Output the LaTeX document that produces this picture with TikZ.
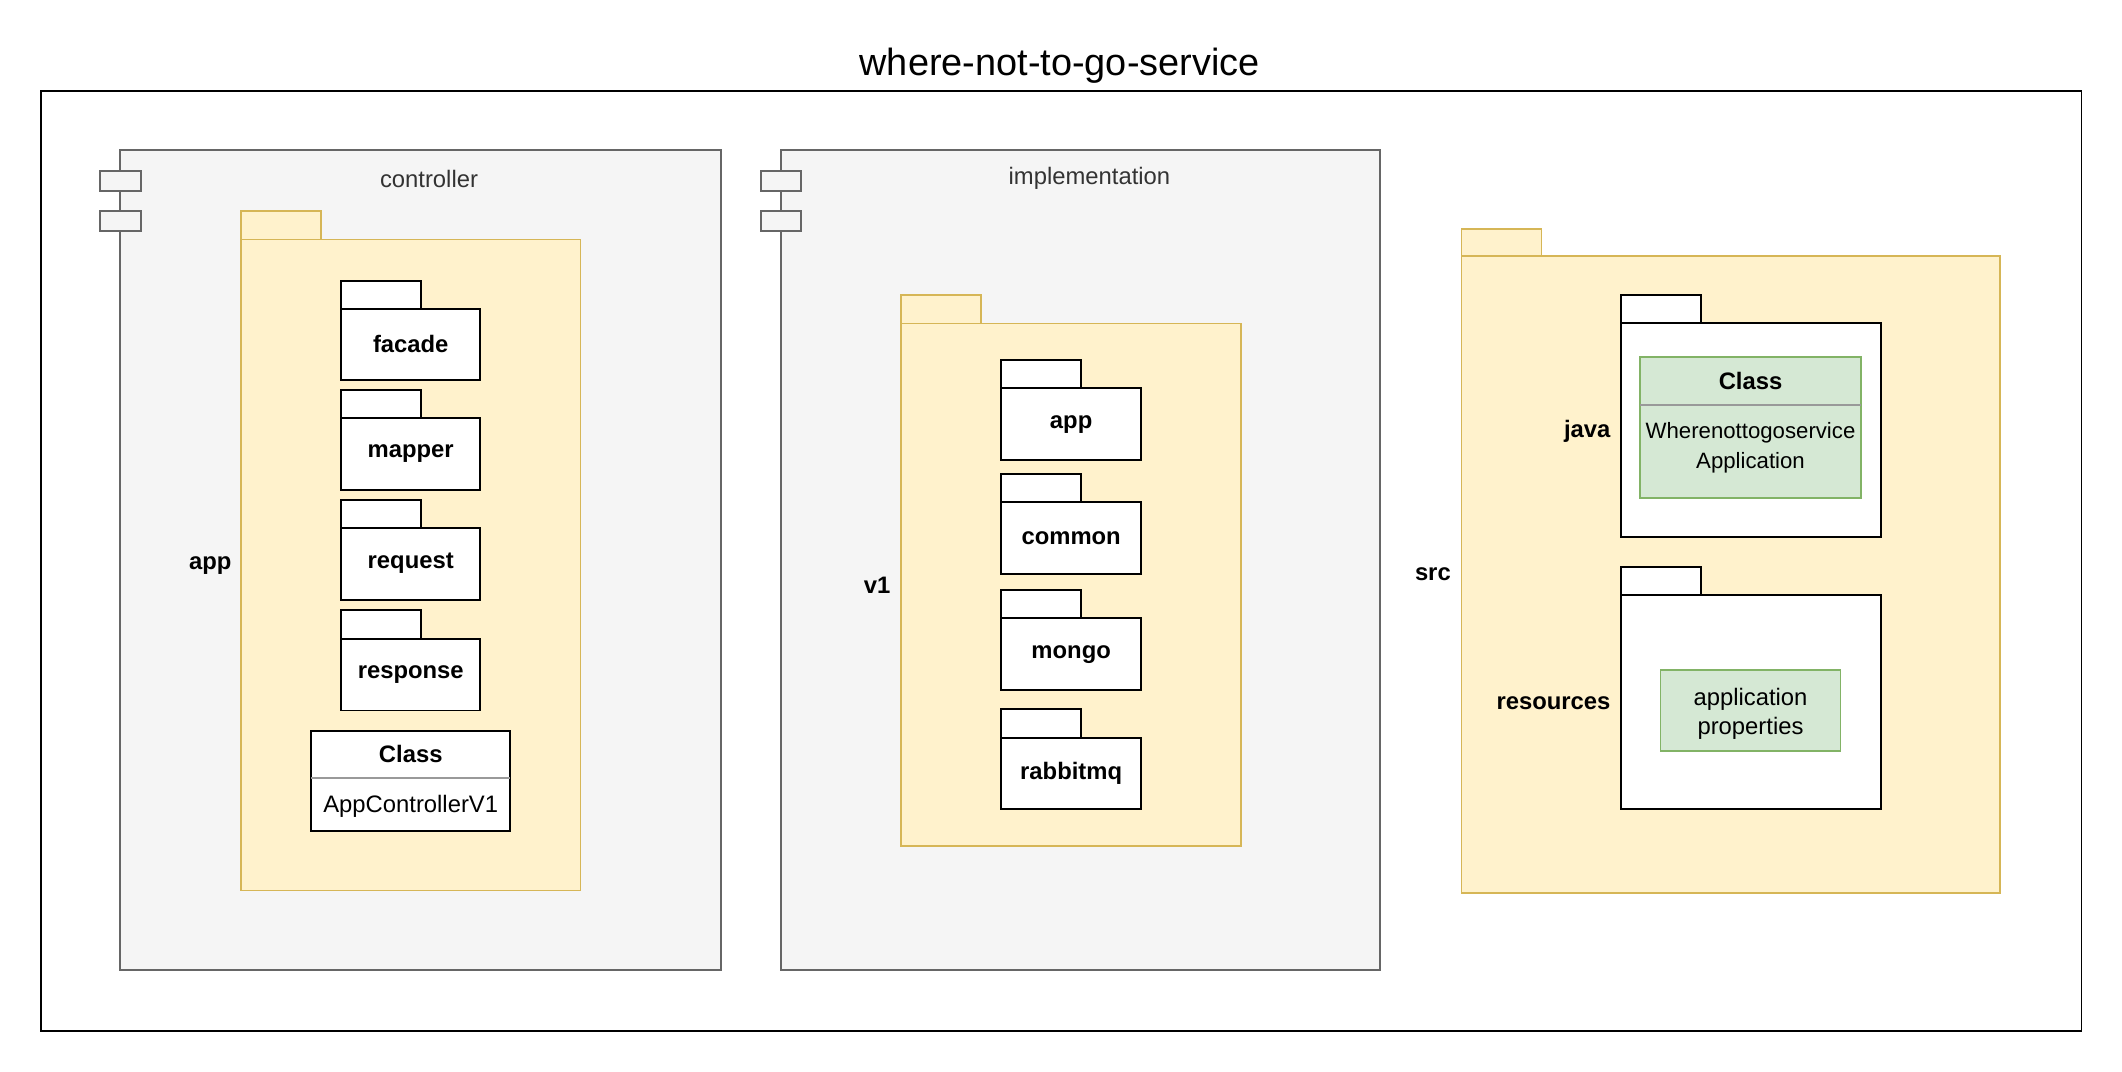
\documentclass[tikz,border=0pt]{standalone}
\usepackage{fontspec}
\setmainfont{Liberation Sans}
\usetikzlibrary{positioning}

\definecolor{cmpfill}{HTML}{F5F5F5}
\definecolor{cmpline}{HTML}{666666}
\definecolor{cmptext}{HTML}{333333}
\definecolor{pkgfill}{HTML}{FFF2CC}
\definecolor{pkgline}{HTML}{D6B656}
\definecolor{clsfill}{HTML}{D5E8D4}
\definecolor{clsline}{HTML}{82B366}
\definecolor{divline}{HTML}{999999}

\newdimen\px \px=0.75pt
\newcommand{\dfont}{\fontsize{13.2}{16.5}\selectfont}

\tikzset{
  box/.style={rectangle,inner sep=0pt,outer sep=0pt,font=\dfont},
  frame/.style={box,draw=black,line width=1pt},
  comp/.style={box,draw=cmpline,fill=cmpfill,line width=1.1pt},
  port/.style={box,draw=cmpline,fill=cmpfill,line width=1.1pt,minimum width=30\px,minimum height=15\px},
  ypkg/.style={box,draw=pkgline,fill=pkgfill,line width=1pt},
  wpkg/.style={box,draw=black,fill=white,line width=1.1pt},
  gcls/.style={box,draw=clsline,fill=clsfill,line width=1pt},
  divider/.style={draw=divline,line width=1.2pt},
  lbl/.style={box,font=\dfont\bfseries},
  cmplbl/.style={box,text=cmptext}
}

\begin{document}
\begin{tikzpicture}[x=0.75pt,y=-0.75pt]
\useasboundingbox (0,0) rectangle (1568,792);

% outer frame
\node[frame,minimum width=1508\px,minimum height=695\px] (service) at (784,414.5) {};
\node[box,font=\fontsize{21}{25}\selectfont] (title) at (783,48.5) {where-not-to-go-service};

% controller
\node[comp,minimum width=444\px,minimum height=606\px] (ctrl) at (311,414) {};
\node[port] (ctrlportA) at (89,133.5) {};
\node[port] (ctrlportB) at (89,163.5) {};
\node[cmplbl] (ctrllbl) at (317,132) {controller};

\node[ypkg,minimum width=59\px,minimum height=21\px] (apptab) at (207.5,166.5) {};
\node[ypkg,minimum width=251\px,minimum height=481\px] (app) at (303.5,417.5) {};
\node[lbl,anchor=east] (applbl) at (171,418) {app};

\node[wpkg,minimum width=59\px,minimum height=21\px] (facadetab) at (281.5,218) {};
\node[wpkg,lbl,minimum width=103\px,minimum height=53\px] (facade) at (303.5,254.5) {facade};
\node[wpkg,minimum width=59\px,minimum height=21\px] (mappertab) at (281.5,299) {};
\node[wpkg,lbl,minimum width=103\px,minimum height=53\px] (mapper) at (303.5,335.5) {mapper};
\node[wpkg,minimum width=59\px,minimum height=21\px] (requesttab) at (281.5,380) {};
\node[wpkg,lbl,minimum width=103\px,minimum height=53\px] (request) at (303.5,416.5) {request};
\node[wpkg,minimum width=59\px,minimum height=21\px] (responsetab) at (281.5,461.5) {};
\node[wpkg,lbl,minimum width=103\px,minimum height=53\px] (response) at (303.5,498.5) {response};

\node[wpkg,minimum width=147\px,minimum height=74\px] (ctrlcls) at (303.5,577) {};
\node[lbl,minimum width=147\px,minimum height=35\px] (ctrlclshd) at (303.5,557.5) {Class};
\draw[divider] (ctrlclshd.south west) -- (ctrlclshd.south east);
\node[box] (ctrlclsname) at (303.5,596) {AppControllerV1};

% implementation
\node[comp,minimum width=443\px,minimum height=606\px] (impl) at (798.5,414) {};
\node[port] (implportA) at (577,133.5) {};
\node[port] (implportB) at (577,163.5) {};
\node[cmplbl] (impllbl) at (805,132) {implementation};

\node[ypkg,minimum width=59\px,minimum height=21\px] (vonetab) at (695.5,228.5) {};
\node[ypkg,minimum width=251\px,minimum height=386\px] (vone) at (791.5,432) {};
\node[lbl,anchor=east] (vonelbl) at (658,432.5) {v1};

\node[wpkg,minimum width=59\px,minimum height=21\px] (impapptab) at (769.5,276.5) {};
\node[wpkg,lbl,minimum width=103\px,minimum height=53\px] (impapp) at (791.5,313.5) {app};
\node[wpkg,minimum width=59\px,minimum height=21\px] (commontab) at (769.5,360.5) {};
\node[wpkg,lbl,minimum width=103\px,minimum height=53\px] (common) at (791.5,397.5) {common};
\node[wpkg,minimum width=59\px,minimum height=21\px] (mongotab) at (769.5,446.5) {};
\node[wpkg,lbl,minimum width=103\px,minimum height=53\px] (mongo) at (791.5,483.5) {mongo};
\node[wpkg,minimum width=59\px,minimum height=21\px] (rabbittab) at (769.5,534.5) {};
\node[wpkg,lbl,minimum width=103\px,minimum height=53\px] (rabbit) at (791.5,571.5) {rabbitmq};

% src
\node[ypkg,minimum width=59\px,minimum height=20\px] (srctab) at (1109.5,179) {};
\node[ypkg,minimum width=398\px,minimum height=471\px] (src) at (1279,424.5) {};
\node[lbl,anchor=east] (srclbl) at (1072,424) {src};

\node[wpkg,minimum width=59\px,minimum height=21\px] (javatab) at (1227.5,228.5) {};
\node[wpkg,minimum width=192\px,minimum height=158\px] (java) at (1294,318) {};
\node[lbl,anchor=east] (javalbl) at (1190,318.5) {java};
\node[gcls,minimum width=163\px,minimum height=104\px] (maincls) at (1293.5,316) {};
\node[lbl,minimum width=163\px,minimum height=35\px] (mainclshd) at (1293.5,281.5) {Class};
\draw[divider] (mainclshd.south west) -- (mainclshd.south east);
\node[box,align=center,font=\fontsize{12.3}{16.5}\selectfont] (mainclsname) at (1293.5,331) {Wherenottogoservice\\Application};

\node[wpkg,minimum width=59\px,minimum height=21\px] (restab) at (1227.5,429.5) {};
\node[wpkg,minimum width=192\px,minimum height=158\px] (res) at (1294,519) {};
\node[lbl,anchor=east] (reslbl) at (1190,519.5) {resources};
\node[gcls,minimum width=133\px,minimum height=60\px] (appprops) at (1293.5,525) {};
\node[box,align=center,font=\fontsize{13.2}{15.75}\selectfont] (apppropstxt) at (1293.5,527.5) {application\\properties};
\end{tikzpicture}
\end{document}
